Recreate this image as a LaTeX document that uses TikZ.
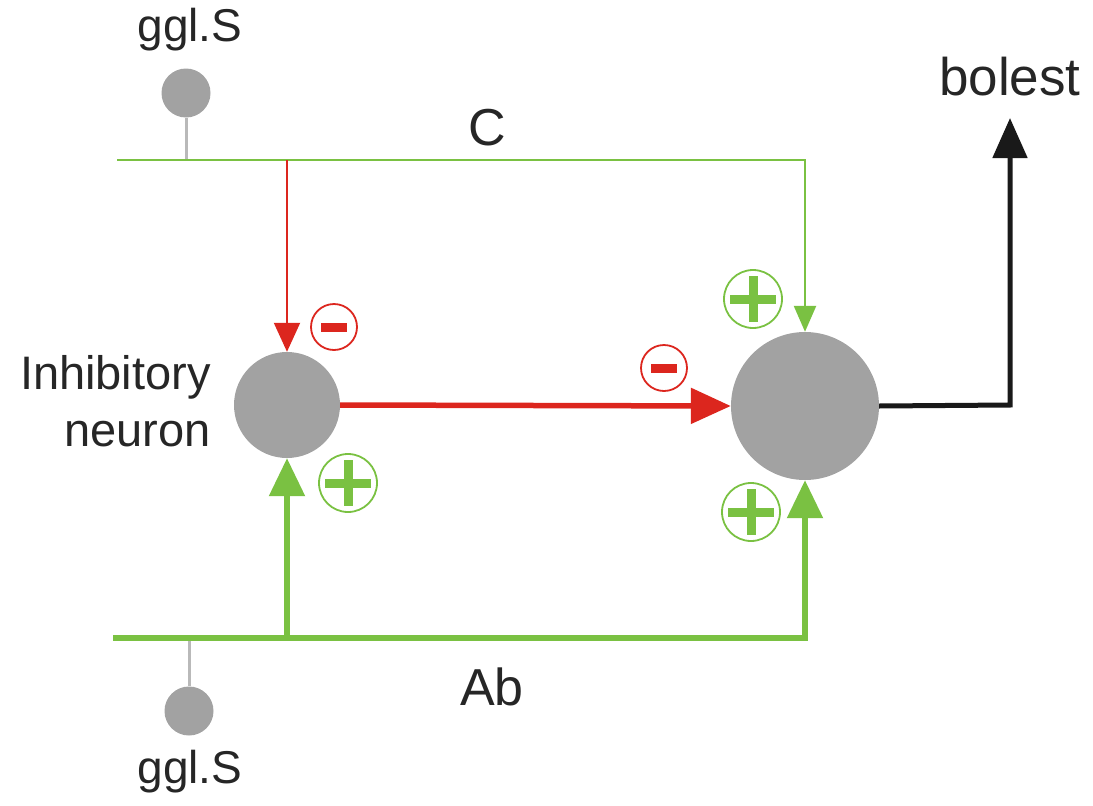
\documentclass[tikz,border=0pt]{standalone}
\usepackage{fontspec}
\setmainfont{Liberation Sans}
\usetikzlibrary{arrows.meta}
\definecolor{ngreen}{RGB}{122,193,66}
\definecolor{nred}{RGB}{220,38,30}
\definecolor{ngrey}{RGB}{162,162,162}
\definecolor{lgrey}{RGB}{185,185,185}
\tikzset{
  neuron/.style={circle, fill=ngrey, inner sep=0pt},
  lbl/.style={inner sep=0pt, text=black!85},
  greenthin/.style={draw=ngreen, line width=2.5pt},
  greenthick/.style={draw=ngreen, line width=5.5pt},
  redthin/.style={draw=nred, line width=2pt},
  redthick/.style={draw=nred, line width=5.5pt},
  blackthick/.style={draw=black!90, line width=5pt},
  stem/.style={draw=lgrey, line width=3pt},
  pics/plussign/.style={code={
    \draw[ngreen, line width=1.8pt] (0,0) circle (29pt);
    \fill[ngreen] (-23pt,-4.5pt) rectangle (23pt,4.5pt);
    \fill[ngreen] (-4.5pt,-23pt) rectangle (4.5pt,23pt);
  }},
  pics/minussign/.style={code={
    \draw[nred, line width=1.8pt] (0,0) circle (23pt);
    \fill[nred] (-13pt,-4.5pt) rectangle (13pt,4.5pt);
  }}
}
\begin{document}
\begin{tikzpicture}[x=1pt,y=-1pt]
\useasboundingbox (0,0) rectangle (1093,806);
% neurons
\node[neuron, minimum size=106pt] (inh) at (287,405) {};
\node[neuron, minimum size=148pt] (big) at (805,406) {};
\node[neuron, minimum size=49pt] (g1) at (186,93) {};
\node[neuron, minimum size=49pt] (g2) at (189,711) {};
% coordinates
\coordinate (tl) at (117,160);
\coordinate (tr) at (805,160);
\coordinate (tj) at (287,160);
\coordinate (ts) at (186,160);
\coordinate (bl) at (113,638);
\coordinate (br) at (805,638);
\coordinate (bj) at (287,638);
\coordinate (bs) at (189,638);
\coordinate (oc) at (1010,405);
\coordinate (ot) at (1010,118);
% stems
\draw[stem] (g1.south) -- (ts);
\draw[stem] (g2.north) -- (bs);
% C fibre
\draw[greenthin, -{Triangle[length=26pt,width=22pt]}] (tl) -- (tr) -- (big.north);
\draw[redthin, -{Triangle[length=29pt,width=26pt]}] (tj) -- (inh.north);
% Ab fibre
\draw[greenthick, -{Triangle[length=38pt,width=35pt]}] (bl) -- (br) -- (big.south);
\draw[greenthick, -{Triangle[length=38pt,width=35pt]}] (bj) -- (inh.south);
% inhibitory output
\draw[redthick, -{Triangle[length=40pt,width=35pt]}] (inh.east) -- (big.west);
% output
\draw[blackthick, -{Triangle[length=40pt,width=34pt]}] (big.east) -- (oc) -- (ot);
% signs
\pic at (334,327) {minussign};
\pic at (664,368) {minussign};
\pic at (348,483) {plussign};
\pic at (753,299) {plussign};
\pic at (751,512) {plussign};
% labels
\node[lbl, font=\fontsize{46}{55}\selectfont] (t1) at (190,30) {ggl.S};
\node[lbl, font=\fontsize{46}{55}\selectfont] (t2) at (190,772) {ggl.S};
\node[lbl, font=\fontsize{52}{60}\selectfont] (tc) at (487,128) {C};
\node[lbl, font=\fontsize{52}{60}\selectfont] (tab) at (492,687) {Ab};
\node[lbl, font=\fontsize{53}{60}\selectfont] (tb) at (1010,77) {bolest};
\node[lbl, font=\fontsize{47}{57}\selectfont, align=right, anchor=east] (ti) at (211,401) {Inhibitory\\neuron};
\end{tikzpicture}
\end{document}
